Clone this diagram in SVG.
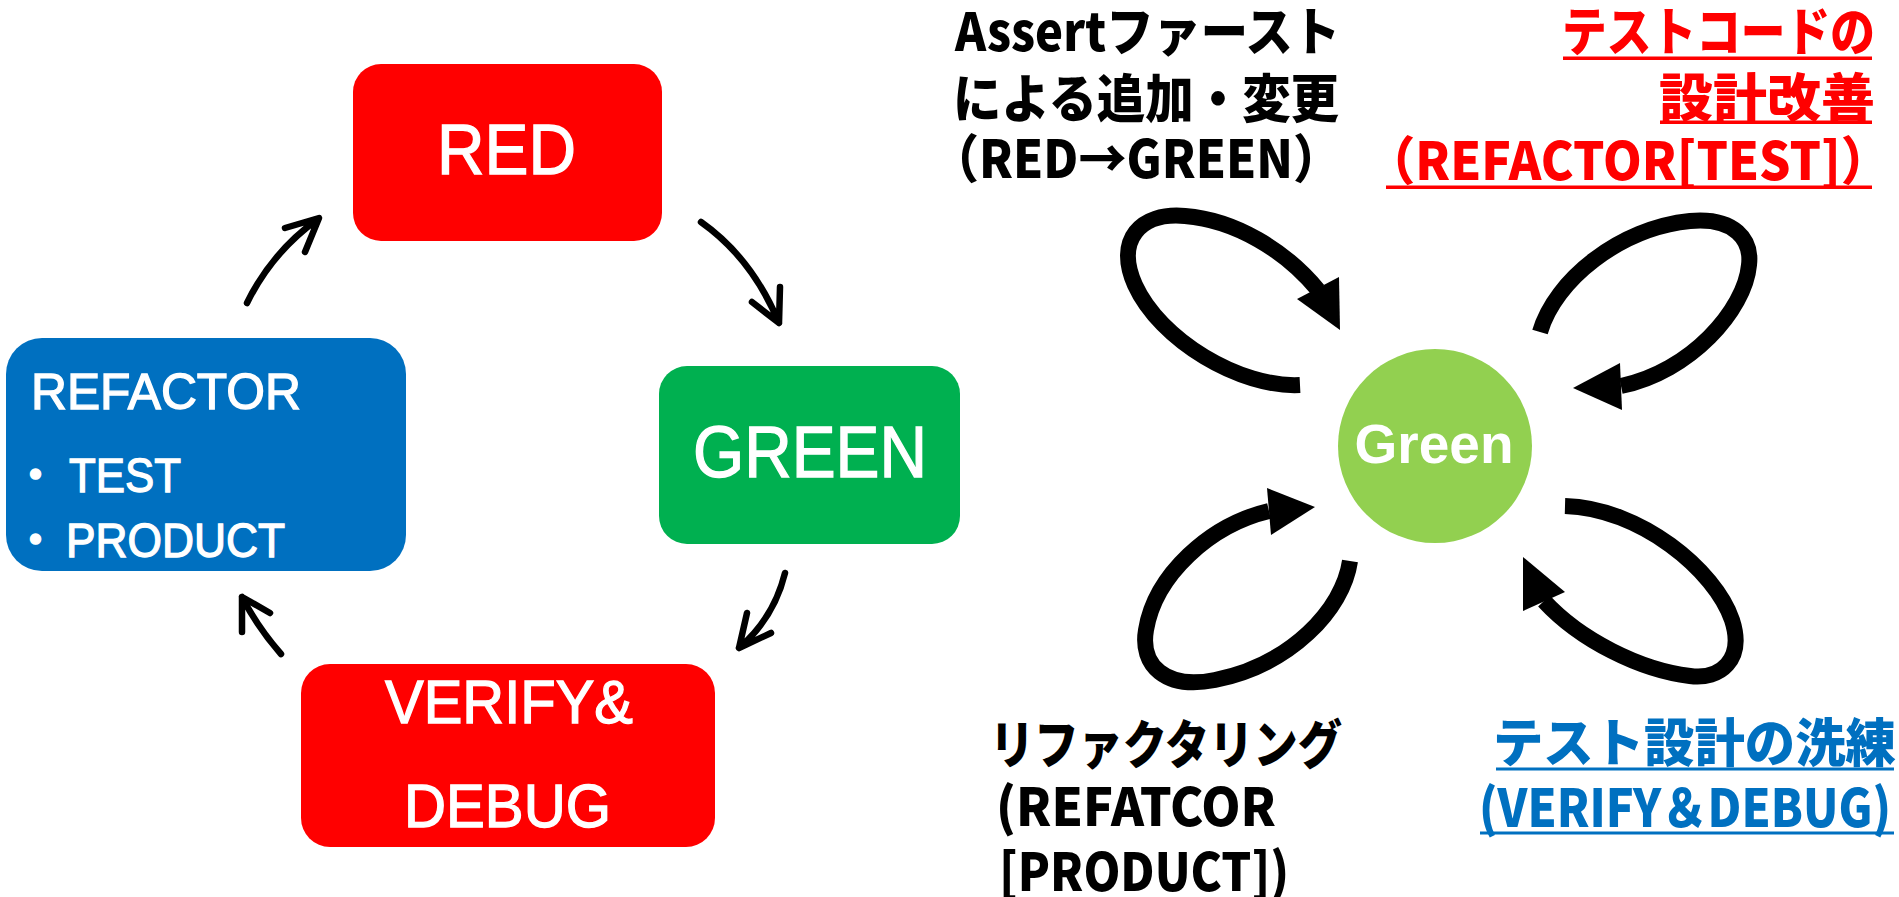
<svg xmlns="http://www.w3.org/2000/svg" width="1899" height="897" viewBox="0 0 1899 897">
<style>
.box text, .lbl { font-family: "Liberation Sans", Arial, sans-serif; fill: #ffffff; }
.box text { stroke: #ffffff; stroke-width: 1.3; }
.dot { font-family: "Noto Sans CJK JP", sans-serif; fill: #ffffff; }
.jp { font-family: "Noto Sans CJK JP", sans-serif; font-weight: 900; font-size: 52px; }
.blk { fill: #000000; }
.red { fill: #ff0000; }
.blu { fill: #0070c0; }
.cyc { fill: none; stroke: #000000; stroke-width: 6.5; stroke-linecap: round; stroke-linejoin: round; }
.loop { fill: none; stroke: #000000; stroke-width: 16; stroke-linecap: butt; }
.head { fill: #000000; }
</style>
<rect width="1899" height="897" fill="#ffffff"/>

<g id="node-red" class="box">
  <rect x="353" y="64" width="309" height="177" rx="28" fill="#ff0000"/>
  <text x="437" y="174" font-size="70" textLength="139" lengthAdjust="spacingAndGlyphs">RED</text>
</g>
<g id="node-green" class="box">
  <rect x="659" y="366" width="301" height="178" rx="28" fill="#00b050"/>
  <text x="693" y="477" font-size="72" textLength="234" lengthAdjust="spacingAndGlyphs">GREEN</text>
</g>
<g id="node-refactor" class="box">
  <rect x="6" y="338" width="400" height="233" rx="36" fill="#0070c0"/>
  <text x="31" y="409" font-size="50" textLength="270" lengthAdjust="spacingAndGlyphs">REFACTOR</text>
  <text y="492" font-size="48"><tspan class="dot" x="11.5">・</tspan><tspan x="69" textLength="112" lengthAdjust="spacingAndGlyphs">TEST</tspan></text>
  <text y="557" font-size="48"><tspan class="dot" x="11.5">・</tspan><tspan x="66" textLength="219" lengthAdjust="spacingAndGlyphs">PRODUCT</tspan></text>
</g>
<g id="node-verify" class="box">
  <rect x="301" y="664" width="414" height="183" rx="29" fill="#ff0000"/>
  <text x="385" y="723" font-size="61" textLength="248" lengthAdjust="spacingAndGlyphs">VERIFY&amp;</text>
  <text x="404" y="827" font-size="61" textLength="207" lengthAdjust="spacingAndGlyphs">DEBUG</text>
</g>

<g id="node-green-circle">
  <circle cx="1435" cy="446" r="97" fill="#92d050"/>
  <text class="lbl" x="1434" y="463" font-size="55" font-weight="bold" text-anchor="middle">Green</text>
</g>

<g id="connectors">
  <path class="cyc" d="M247 303 Q272 252 318 219 M285 228 L319 218 L305 252"/>
  <path class="cyc" d="M701 222 Q752 258 779 323 M752 302 L779 323 L780 287"/>
  <path class="cyc" d="M785 573 Q774 618 739 648 M747 613 L739 648 L771 633"/>
  <path class="cyc" d="M281 654 Q258 628 242 597 M242 632 L242 597 L270 613"/>

  <path class="loop" d="M1300 385 C1240 388 1160 340 1135 285 C1115 240 1140 212 1185 216 C1235 220 1285 250 1318 290"/>
  <polygon class="head" points="1297,299 1339,277 1340,330"/>

  <path class="loop" d="M1540 332 C1555 280 1620 228 1690 221 C1735 217 1752 240 1749 265 C1745 310 1690 372 1621 386"/>
  <polygon class="head" points="1573,388 1620,363 1622,410"/>

  <path class="loop" d="M1350 561 C1343 610 1290 665 1215 680 C1165 690 1140 665 1146 630 C1155 575 1210 525 1269 511"/>
  <polygon class="head" points="1267,488 1315,507 1271,535"/>

  <path class="loop" d="M1565 506 C1640 508 1715 570 1732 620 C1745 660 1720 680 1690 676 C1640 670 1580 640 1544 601"/>
  <polygon class="head" points="1523,557 1565,592 1523,611"/>
</g>

<g id="label-assert">
  <text class="jp blk" x="955" y="51" textLength="385" lengthAdjust="spacingAndGlyphs">Assertファースト</text>
  <text class="jp blk" x="953" y="118" textLength="386" lengthAdjust="spacingAndGlyphs">による追加・変更</text>
  <text class="jp blk" x="931" y="178" textLength="410" lengthAdjust="spacingAndGlyphs">（RED→GREEN）</text>
</g>

<g id="label-refactor-test">
  <text class="jp red" x="1562" y="51" textLength="313" lengthAdjust="spacingAndGlyphs">テストコードの</text>
  <rect class="red" x="1563" y="56.5" width="309" height="3.5"/>
  <text class="jp red" x="1659" y="117" font-size="54" textLength="216" lengthAdjust="spacingAndGlyphs">設計改善</text>
  <rect class="red" x="1660" y="120.5" width="212" height="3.5"/>
  <text class="jp red" x="1366" y="180" textLength="524" lengthAdjust="spacingAndGlyphs">（REFACTOR[TEST]）</text>
  <rect class="red" x="1386" y="185.5" width="486" height="3.5"/>
</g>

<g id="label-refactor-product">
  <text class="jp blk" x="990" y="764" textLength="352" lengthAdjust="spacingAndGlyphs">リファクタリング</text>
  <text class="jp blk" x="996" y="826" textLength="280" lengthAdjust="spacingAndGlyphs">(REFATCOR</text>
  <text class="jp blk" x="999" y="891" textLength="290" lengthAdjust="spacingAndGlyphs">[PRODUCT])</text>
</g>

<g id="label-verify">
  <text class="jp blu" x="1493" y="762" textLength="403" lengthAdjust="spacingAndGlyphs">テスト設計の洗練</text>
  <rect class="blu" x="1496" y="767.5" width="398" height="3"/>
  <text class="jp blu" x="1479" y="827" textLength="412" lengthAdjust="spacingAndGlyphs">(VERIFY＆DEBUG)</text>
  <rect class="blu" x="1480" y="831.5" width="414" height="3"/>
</g>
</svg>
